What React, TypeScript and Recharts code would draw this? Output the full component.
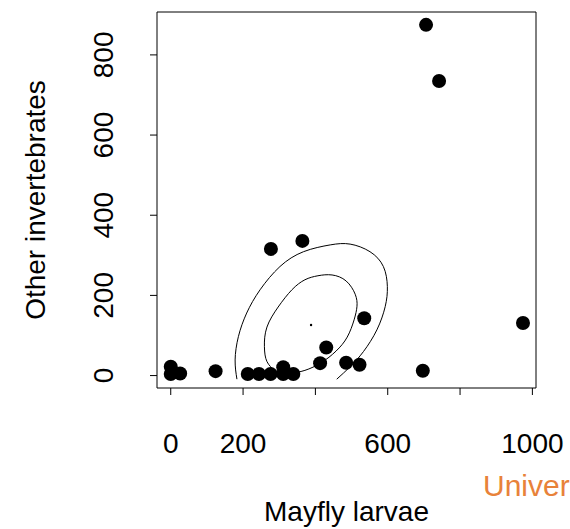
import React from 'react';
import { ScatterChart, Scatter, XAxis, YAxis, ReferenceArea } from 'recharts';

// observations
const mayfly = [0, 0, 26, 124, 213, 244, 276, 311, 311, 339, 413, 430, 485, 522, 535, 277, 364, 706, 742, 974, 697];
const others = [22, 4, 5, 11, 4, 4, 4, 21, 4, 4, 31, 70, 32, 27, 143, 316, 336, 875, 735, 131, 12];

// density contours
const innerX = [288, 266, 259, 266, 297, 335, 371, 407, 446, 485, 510, 515, 507, 488, 457, 416, 371, 330, 288];
const innerY = [12, 35, 72, 121, 171, 214, 239, 249, 251, 236, 203, 173, 139, 96, 61, 32, 13, 7, 12];
const outerX = [183, 178, 187, 210, 247, 302, 367, 441, 496, 551, 588, 599, 593, 570, 533, 496, 459];
const outerY = [-9, 39, 97, 156, 214, 272, 309, 326, 328, 309, 272, 222, 172, 114, 60, 22, -9];
const peakX = [388];
const peakY = [126];

const xTicks = [0, 200, 400, 600, 800, 1000];
const xTickLabels = ['0', '200', '', '600', '', '1000'];
const yTicks = [0, 200, 400, 600, 800];

const FONT = '"Liberation Sans", Arial, Helvetica, sans-serif';
const FS = 28;

const toPts = (xs: number[], ys: number[]) => xs.map((x, i) => ({ x, y: ys[i] }));

const points = toPts(mayfly, others);
const inner = toPts(innerX, innerY);
const outer = toPts(outerX, outerY);
const peak = toPts(peakX, peakY);

const XTick = (props: any) => {
  const { x, y, payload } = props;
  const label = xTickLabels[xTicks.indexOf(payload.value)] ?? '';
  return (
    <text x={x} y={y + 48} textAnchor="middle" dominantBaseline="central" fontFamily={FONT} fontSize={FS} fill="#000">
      {label}
    </text>
  );
};

const YTick = (props: any) => {
  const { x, y, payload } = props;
  const cx = x - 46;
  return (
    <text x={cx} y={y} transform={`rotate(-90, ${cx}, ${y})`} textAnchor="middle" dominantBaseline="central"
      fontFamily={FONT} fontSize={FS} fill="#000">
      {payload.value}
    </text>
  );
};

const Dot = (p: any) => <circle cx={p.cx} cy={p.cy} r={7} fill="#000" />;
const Tiny = (p: any) => <circle cx={p.cx} cy={p.cy} r={1.2} fill="#000" />;
const NoShape = () => <g />;

export default function App() {
  return (
    <div style={{ position: 'absolute', left: 0, top: 0, width: 570, height: 529, overflow: 'hidden', background: '#fff' }}>
      <ScatterChart width={570} height={529} margin={{ top: 12, right: 34, bottom: 0, left: 0 }}>
        <XAxis
          type="number"
          dataKey="x"
          domain={[-38, 1010]}
          allowDataOverflow
          ticks={xTicks}
          interval={0}
          height={141}
          axisLine={false}
          tickSize={7}
          tickMargin={0}
          tickLine={{ stroke: '#000' }}
          tick={<XTick />}
          label={{
            content: (p: any) => (
              <text x={p.viewBox.x + p.viewBox.width / 2} y={521} textAnchor="middle" fontFamily={FONT} fontSize={FS} fill="#000">
                Mayfly larvae
              </text>
            ),
          }}
        />
        <YAxis
          type="number"
          dataKey="y"
          domain={[-31, 907]}
          allowDataOverflow
          ticks={yTicks}
          interval={0}
          width={157}
          axisLine={false}
          tickSize={7}
          tickMargin={0}
          tickLine={{ stroke: '#000' }}
          tick={<YTick />}
          label={{
            content: () => (
              <text x={45} y={200} transform="rotate(-90, 45, 200)" textAnchor="middle" fontFamily={FONT} fontSize={FS} fill="#000">
                Other invertebrates
              </text>
            ),
          }}
        />
        <ReferenceArea x1={-38} x2={1010} y1={-31} y2={907} fill="none" stroke="#000" strokeWidth={1} ifOverflow="visible" />
        <Scatter data={outer} line={{ stroke: '#000', strokeWidth: 1 }} lineJointType="natural" shape={NoShape} isAnimationActive={false} />
        <Scatter data={inner} line={{ stroke: '#000', strokeWidth: 1 }} lineJointType="natural" shape={NoShape} isAnimationActive={false} />
        <Scatter data={peak} shape={Tiny} isAnimationActive={false} />
        <Scatter data={points} shape={Dot} isAnimationActive={false} />
      </ScatterChart>
      <svg width={570} height={529} style={{ position: 'absolute', left: 0, top: 0, pointerEvents: 'none' }}>
        <text x={483} y={496} fontFamily={FONT} fontSize={30} fill="#E8823A">
          University
        </text>
      </svg>
    </div>
  );
}
